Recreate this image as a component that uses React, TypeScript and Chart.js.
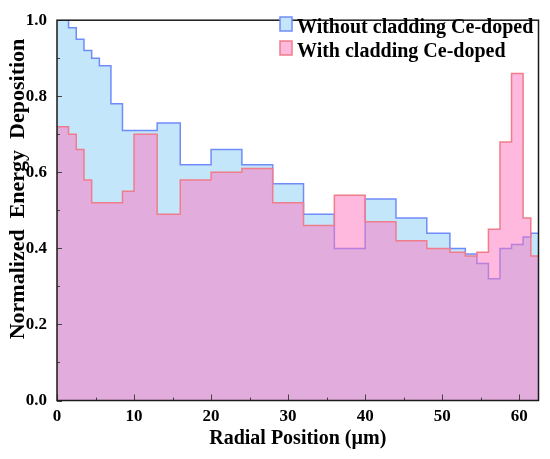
import { useEffect, useRef } from 'react';
import { Chart, registerables } from 'chart.js';

Chart.register(...registerables);

// bin edges (µm) and one value per bin
const binEdges = [0, 1.5, 2.5, 3.5, 4.5, 5.5, 7, 8.5, 10, 13, 16, 20, 24, 28, 32, 36, 40, 44, 48, 51, 53, 54.5, 56, 57.5, 59, 60.5, 61.5, 62.5];
const withoutCladding = [1.0, 0.98, 0.95, 0.92, 0.9, 0.88, 0.78, 0.71, 0.71, 0.73, 0.62, 0.66, 0.62, 0.57, 0.49, 0.4, 0.53, 0.48, 0.44, 0.4, 0.385, 0.36, 0.32, 0.4, 0.41, 0.43, 0.44];
const withCladding = [0.72, 0.7, 0.66, 0.58, 0.52, 0.52, 0.52, 0.55, 0.7, 0.49, 0.58, 0.6, 0.61, 0.52, 0.46, 0.54, 0.47, 0.42, 0.4, 0.39, 0.38, 0.39, 0.45, 0.68, 0.86, 0.48, 0.38];
const seriesNames = ['Without cladding Ce-doped', 'With cladding Ce-doped'];
const xMax = 62.5;

const SERIF = '"Liberation Serif", "Times New Roman", serif';
const lineColors = ['rgb(112,140,250)', 'rgb(240,125,140)'];
const fillColors = ['rgb(196,230,251)', 'rgba(255,113,189,0.5)'];

// stepped 'before' keeps each value until the next edge
const toSteps = (vals: number[]) =>
  binEdges.map((x, i) => ({ x, y: vals[Math.min(i, vals.length - 1)] }));

const decorations = {
  id: 'decorations',
  afterDatasetsDraw(chart: any) {
    const { ctx, chartArea: a, scales } = chart;
    ctx.save();
    ctx.strokeStyle = '#444';
    ctx.lineWidth = 1;
    // inward ticks on x
    for (let v = 0; v <= 60; v += 5) {
      const px = Math.round(scales.x.getPixelForValue(v)) + 0.5;
      const len = v % 10 === 0 ? 6 : 3;
      ctx.beginPath();
      ctx.moveTo(px, a.bottom);
      ctx.lineTo(px, a.bottom - len);
      ctx.stroke();
    }
    // inward ticks on y
    for (let i = 0; i <= 10; i++) {
      const py = Math.round(scales.y.getPixelForValue(i / 10)) + 0.5;
      const len = i % 2 === 0 ? 5 : 3;
      ctx.beginPath();
      ctx.moveTo(a.left, py);
      ctx.lineTo(a.left + len, py);
      ctx.stroke();
    }
    ctx.strokeStyle = '#1a1a1a';
    ctx.lineWidth = 1.5;
    ctx.strokeRect(a.left, a.top, a.right - a.left, a.bottom - a.top);
    ctx.restore();
  },
  afterDraw(chart: any) {
    const { ctx } = chart;
    ctx.save();
    // y axis title
    ctx.translate(18, 189);
    ctx.rotate(-Math.PI / 2);
    ctx.fillStyle = '#000';
    ctx.font = `bold 22px ${SERIF}`;
    ctx.textAlign = 'center';
    ctx.textBaseline = 'middle';
    ctx.fillText('Normalized  Energy  Deposition', 0, 0);
    ctx.restore();

    // legend
    ctx.save();
    ctx.font = `bold 20px ${SERIF}`;
    ctx.textBaseline = 'alphabetic';
    seriesNames.forEach((name, i) => {
      const y0 = 17 + 24 * i;
      ctx.fillStyle = fillColors[i];
      ctx.fillRect(280, y0, 12, 14);
      ctx.strokeStyle = lineColors[i];
      ctx.lineWidth = 1.5;
      ctx.strokeRect(280, y0, 12, 14);
      ctx.fillStyle = '#000';
      ctx.fillText(name, 297, y0 + 16);
    });
    ctx.restore();
  },
};

const tickFont = { family: SERIF, size: 17, weight: 'bold' as const };

export default function App() {
  const canvasRef = useRef<HTMLCanvasElement>(null);

  useEffect(() => {
    const chart = new Chart(canvasRef.current!, {
      type: 'line',
      data: {
        datasets: [
          {
            label: seriesNames[0],
            data: toSteps(withoutCladding),
            stepped: 'before',
            borderColor: lineColors[0],
            backgroundColor: fillColors[0],
            borderWidth: 1.5,
            pointRadius: 0,
            fill: 'origin',
            order: 2,
          },
          {
            label: seriesNames[1],
            data: toSteps(withCladding),
            stepped: 'before',
            borderColor: lineColors[1],
            backgroundColor: fillColors[1],
            borderWidth: 1.5,
            pointRadius: 0,
            fill: 'origin',
            order: 1,
          },
        ],
      },
      options: {
        animation: false,
        responsive: true,
        maintainAspectRatio: false,
        layout: { padding: { top: 13.5, right: 11.5, left: 0, bottom: 0 } },
        plugins: {
          legend: { display: false },
          tooltip: { enabled: false },
        },
        scales: {
          x: {
            type: 'linear',
            min: 0,
            max: xMax,
            grid: { display: false, drawTicks: false },
            border: { display: false },
            ticks: {
              stepSize: 10,
              includeBounds: false,
              maxRotation: 0,
              padding: 6,
              color: '#000',
              font: tickFont,
            },
            title: {
              display: true,
              text: 'Radial Position (µm)',
              color: '#000',
              font: { family: SERIF, size: 20, weight: 'bold' },
              padding: { top: 0, bottom: 8 },
            },
            afterFit: (s: any) => {
              s.height = 58.5;
            },
          },
          y: {
            min: 0,
            max: 1,
            grid: { display: false, drawTicks: false },
            border: { display: false },
            ticks: {
              stepSize: 0.2,
              padding: 10,
              color: '#000',
              font: tickFont,
              callback: (v: any) => Number(v).toFixed(1),
            },
            afterFit: (s: any) => {
              s.width = 57;
            },
          },
        },
      },
      plugins: [decorations],
    });
    return () => chart.destroy();
  }, []);

  return (
    <div style={{ position: 'absolute', left: 0, top: 0, width: 550, height: 459 }}>
      <canvas ref={canvasRef} />
    </div>
  );
}
